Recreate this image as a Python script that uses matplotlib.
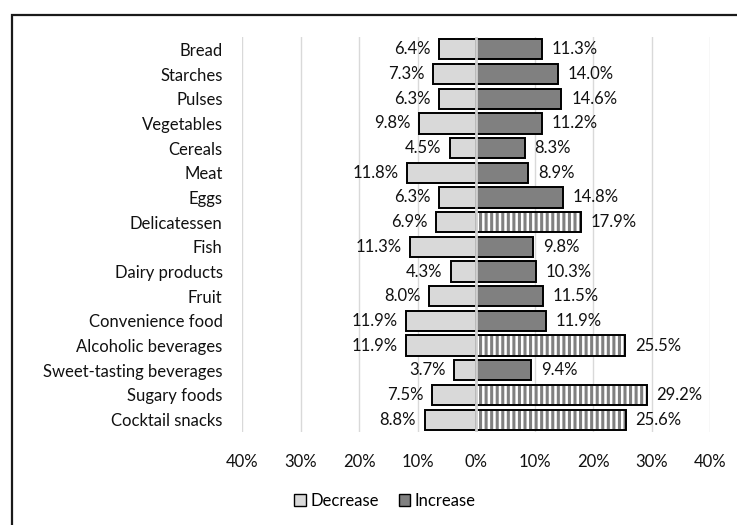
import matplotlib
matplotlib.use("Agg")
import matplotlib.pyplot as plt
from matplotlib.patches import Rectangle, Patch
import numpy as np

categories = ["Bread", "Starches", "Pulses", "Vegetables", "Cereals", "Meat", "Eggs",
              "Delicatessen", "Fish", "Dairy products", "Fruit", "Convenience food",
              "Alcoholic beverages", "Sweet-tasting beverages", "Sugary foods", "Cocktail snacks"]
decrease = [6.4, 7.3, 6.3, 9.8, 4.5, 11.8, 6.3, 6.9, 11.3, 4.3, 8.0, 11.9, 11.9, 3.7, 7.5, 8.8]
increase = [11.3, 14.0, 14.6, 11.2, 8.3, 8.9, 14.8, 17.9, 9.8, 10.3, 11.5, 11.9, 25.5, 9.4, 29.2, 25.6]
hatched = ["Delicatessen", "Alcoholic beverages", "Sugary foods", "Cocktail snacks"]
xticks = [-40, -30, -20, -10, 0, 10, 20, 30, 40]
xticklabels = ["40%", "30%", "20%", "10%", "0%", "10%", "20%", "30%", "40%"]

plt.rcParams['font.family'] = ['Lato', 'DejaVu Sans']
plt.rcParams['hatch.linewidth'] = 2.2

W, H = 737, 525
fig = plt.figure(figsize=(W/100, H/100), dpi=100)
ax = fig.add_axes([242/W, 1-432/H, (710-242)/W, (432-37)/H])

y = np.arange(len(categories))
bh = 0.82
light = "#d9d9d9"
dark = "#808080"
fs = 12
tc = "#111111"

ax.barh(y, [-d for d in decrease], height=bh, color=light, edgecolor="black", linewidth=1.4, zorder=3)
for i, (c, v) in enumerate(zip(categories, increase)):
    if c in hatched:
        ax.barh(i, v, height=bh, color="white", edgecolor=dark, hatch="|||", linewidth=0, zorder=3)
        ax.barh(i, v, height=bh, color="none", edgecolor="black", linewidth=1.4, zorder=4)
    else:
        ax.barh(i, v, height=bh, color=dark, edgecolor="black", linewidth=1.4, zorder=3)

ax.axvline(0, color="#d0d0d0", linewidth=2.0, zorder=5)

for i, v in enumerate(decrease):
    ax.annotate(f"{v:.1f}%", (-v, i), xytext=(-6, 0), textcoords="offset points",
                ha="right", va="center", fontsize=fs, color=tc)
for i, v in enumerate(increase):
    ax.annotate(f"{v:.1f}%", (v, i), xytext=(7, 0), textcoords="offset points",
                ha="left", va="center", fontsize=fs, color=tc)

ax.set_xlim(-40, 40)
ax.set_ylim(len(categories) - 0.5, -0.5)
ax.set_xticks(xticks)
ax.set_xticklabels(xticklabels, fontsize=fs, color=tc)
ax.set_yticks(y)
ax.set_yticklabels(categories, fontsize=fs, color=tc)
ax.tick_params(axis="both", length=0)
ax.tick_params(axis="y", pad=14)
ax.tick_params(axis="x", pad=16)
ax.grid(axis="x", color="#d9d9d9", linewidth=1.0, zorder=0)
ax.set_axisbelow(True)
for s in ax.spines.values():
    s.set_visible(False)

handles = [Patch(facecolor=light, edgecolor="black", linewidth=1.0),
           Patch(facecolor=dark, edgecolor="black", linewidth=1.0)]
fig.legend(handles, ["Decrease", "Increase"], loc="center", bbox_to_anchor=(385/W, 1-501/H),
           ncol=2, frameon=False, fontsize=fs, handlelength=0.7, handleheight=0.7,
           handletextpad=0.25, columnspacing=1.2)

frame = Rectangle((12/W, -0.1), 1.2, 1 - 15/H + 0.1, transform=fig.transFigure,
                  fill=False, edgecolor="#1a1a1a", linewidth=1.6, clip_on=False)
fig.patches.append(frame)

fig.savefig("out.png", dpi=100)
